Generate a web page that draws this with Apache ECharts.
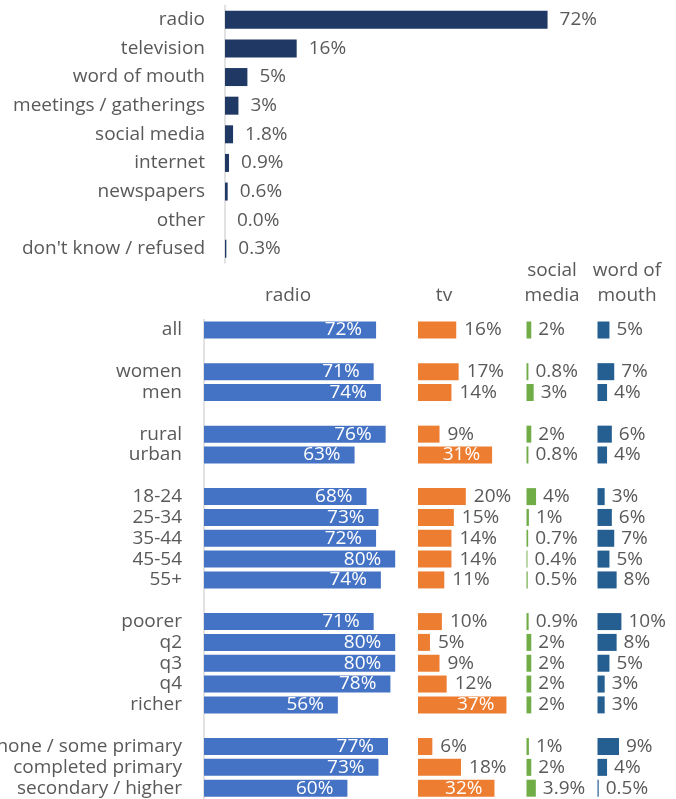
<!DOCTYPE html>
<html><head><meta charset="utf-8">
<script src="https://cdn.jsdelivr.net/npm/echarts@6/dist/echarts.min.js"></script>
<style>html,body{margin:0;padding:0;background:#fff}#c{width:676px;height:799px}</style>
</head><body><div id="c"></div>
<script>
// ---- top chart data ----
const topCategories = ['radio','television','word of mouth','meetings / gatherings','social media','internet','newspapers','other',"don't know / refused"];
const topValues = [72, 16, 5, 3, 1.8, 0.9, 0.6, 0.0, 0.3];

// ---- bottom chart data (empty rows separate groups) ----
const groupCategories = ['all',' ','women','men','  ','rural','urban','   ','18-24','25-34','35-44','45-54','55+','    ','poorer','q2','q3','q4','richer','     ','none / some primary','completed primary','secondary / higher'];
const radioValues  = [72,null,71,74,null,76,63,null,68,73,72,80,74,null,71,80,80,78,56,null,77,73,60];
const tvValues     = [16,null,17,14,null,9,31,null,20,15,14,14,11,null,10,5,9,12,37,null,6,18,32];
const socialValues = [2,null,0.8,3,null,2,0.8,null,4,1,0.7,0.4,0.5,null,0.9,2,2,2,2,null,1,2,3.9];
const womValues    = [5,null,7,4,null,6,4,null,3,6,7,5,8,null,10,8,5,3,3,null,9,4,0.5];
const columnHeaders = ['radio','tv','social\nmedia','word of\nmouth'];

const FONT = 'Open Sans';
const FS = 19;
const TXT = '#595959';
function fmt(v){ if (v == null) return ''; return (v < 1 || !Number.isInteger(v)) ? v.toFixed(1) + '%' : v + '%'; }

const chart = echarts.init(document.getElementById('c'), null, {renderer:'canvas'});

const bTop = 319.6, bH = 479;
const pxPct = 2.39;
const gridsB = [204, 418, 526.5, 597.5];

const grids = [{left:225, top:5.5, height:257.6, width:448, containLabel:false, outerBoundsMode:'none'}];
gridsB.forEach(l => grids.push({left:l, top:bTop, height:bH, width:100*pxPct, containLabel:false, outerBoundsMode:'none'}));

const xAxes = grids.map((g,i)=>({gridIndex:i, type:'value', min:0, max:100, show:false}));
const yAxes = [
  {gridIndex:0, type:'category', inverse:true, data:topCategories,
   axisLine:{show:true, lineStyle:{color:'#D9D9D9', width:1.5}}, axisTick:{show:false},
   axisLabel:{interval:0, color:TXT, fontFamily:FONT, fontSize:FS, margin:20}},
  {gridIndex:1, type:'category', inverse:true, data:groupCategories,
   axisLine:{show:true, lineStyle:{color:'#D9D9D9', width:1.5}}, axisTick:{show:false},
   axisLabel:{interval:0, color:TXT, fontFamily:FONT, fontSize:FS, margin:22}},
];
for (let i=2;i<=4;i++) yAxes.push({gridIndex:i, type:'category', inverse:true, data:groupCategories, show:false});

function outLabel(dist){ return {show:true, position:'right', distance:dist, color:TXT, fontFamily:FONT, fontSize:FS, formatter:p=>fmt(p.value)}; }

const series = [
  {type:'bar', xAxisIndex:0, yAxisIndex:0, data:topValues, barWidth:18, itemStyle:{color:'#203864'}, label:outLabel(12)},
  {type:'bar', xAxisIndex:1, yAxisIndex:1, data:radioValues, barWidth:17, itemStyle:{color:'#4472C4'},
   label:{show:true, position:'insideRight', distance:14, color:'#fff', fontFamily:FONT, fontSize:FS, formatter:p=>fmt(p.value)}},
  {type:'bar', xAxisIndex:2, yAxisIndex:2, barWidth:17, itemStyle:{color:'#ED7D31'},
   data:tvValues.map(v => v != null && v >= 30
     ? {value:v, label:{position:'insideRight', distance:12, color:'#fff'}}
     : v),
   label:outLabel(8)},
  {type:'bar', xAxisIndex:3, yAxisIndex:3, data:socialValues, barWidth:17, itemStyle:{color:'#70AD47'}, label:outLabel(7)},
  {type:'bar', xAxisIndex:4, yAxisIndex:4, data:womValues, barWidth:17, itemStyle:{color:'#255E91'}, label:outLabel(7)},
];

const headerX = [288, 444, 552, 627];
const graphic = columnHeaders.map((t,i)=>({
  type:'text', x:headerX[i], y:308, style:{text:t, fill:TXT, font: FS + 'px "' + FONT + '"', align:'center', verticalAlign:'bottom', lineHeight:25}
}));

chart.setOption({animation:false, grid:grids, xAxis:xAxes, yAxis:yAxes, series, graphic});
</script></body></html>
